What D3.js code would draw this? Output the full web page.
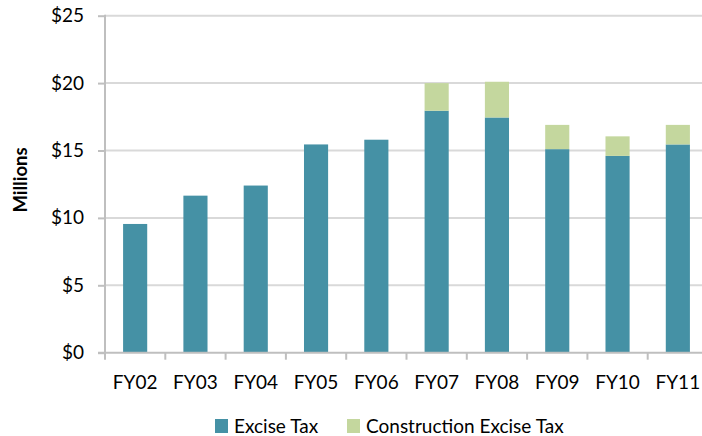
<!DOCTYPE html>
<html>
<head>
<meta charset="utf-8">
<script src="https://cdn.jsdelivr.net/npm/d3@7"></script>
<style>
  html, body { margin: 0; padding: 0; background: #fff; }
  svg { display: block; font-family: Lato, "Open Sans", sans-serif; }
</style>
</head>
<body>
<svg id="chart" width="702" height="436"></svg>
<script>
// Fiscal years and revenue (in $ millions)
const years = ["FY02", "FY03", "FY04", "FY05", "FY06", "FY07", "FY08", "FY09", "FY10", "FY11"];
const exciseTax = [9.55, 11.65, 12.4, 15.45, 15.8, 17.95, 17.45, 15.1, 14.6, 15.45];
const constructionExciseTax = [0, 0, 0, 0, 0, 2.05, 2.65, 1.8, 1.45, 1.45];
const seriesNames = ["Excise Tax", "Construction Excise Tax"];
const seriesColors = ["#4591a5", "#c4d79e"];
const yTicks = [0, 5, 10, 15, 20, 25];

const FONT = "Lato, 'Open Sans', sans-serif";
const FS = 19;
const svg = d3.select("#chart");
const x0 = 105, x1 = 708, yBottom = 352.7, yTop = 15.7;

const x = d3.scaleBand().domain(years).range([x0, x1]).paddingInner(0.6).paddingOuter(0.3);
const xStep = d3.scaleBand().domain(years).range([x0, x1]);
const y = d3.scaleLinear().domain([0, 25]).range([yBottom, yTop]);

// gridlines
svg.append("g").selectAll("line").data(yTicks.filter(d => d > 0)).join("line")
  .attr("x1", x0).attr("x2", 702)
  .attr("y1", d => y(d)).attr("y2", d => y(d))
  .attr("stroke", "#d9d9d9").attr("stroke-width", 2);

// stacked bars
const rows = years.map((yr, i) => ({ year: yr, a: exciseTax[i], b: constructionExciseTax[i] }));
const stack = d3.stack().keys(["a", "b"])(rows);
svg.append("g").selectAll("g").data(stack).join("g")
  .attr("fill", (d, i) => seriesColors[i])
  .selectAll("rect").data(d => d.filter(p => p[1] - p[0] > 0)).join("rect")
  .attr("x", d => x(d.data.year))
  .attr("width", x.bandwidth())
  .attr("y", d => y(d[1]))
  .attr("height", d => y(d[0]) - y(d[1]));

// y axis
const yAxis = svg.append("g").attr("transform", `translate(${x0},0)`)
  .call(d3.axisLeft(y).tickValues(yTicks).tickFormat(d => "$" + d).tickSize(7).tickPadding(14));
yAxis.select(".domain").attr("stroke", "#bfbfbf").attr("stroke-width", 2)
  .attr("d", `M0,${yTop - 1}V${yBottom + 1}`);
yAxis.selectAll(".tick line").attr("stroke", "#bfbfbf").attr("stroke-width", 2);
yAxis.selectAll(".tick text").attr("font-size", FS).attr("fill", "#000")
  .attr("font-family", FONT);

// x axis
const xAxis = svg.append("g").attr("transform", `translate(0,${yBottom})`);
xAxis.append("line").attr("x1", x0 - 7).attr("x2", 702).attr("y1", 0).attr("y2", 0)
  .attr("stroke", "#bfbfbf").attr("stroke-width", 2);
xAxis.selectAll("line.tk").data(years).join("line").attr("class", "tk")
  .attr("x1", d => xStep(d)).attr("x2", d => xStep(d))
  .attr("y1", 0).attr("y2", 7)
  .attr("stroke", "#bfbfbf").attr("stroke-width", 2);
xAxis.selectAll("text").data(years).join("text")
  .attr("x", d => xStep(d) + xStep.bandwidth() / 2)
  .attr("y", 36)
  .attr("text-anchor", "middle")
  .attr("font-size", FS)
  .text(d => d);

// y axis title
svg.append("text")
  .attr("transform", "translate(27,180) rotate(-90)")
  .attr("text-anchor", "middle")
  .attr("font-size", 18.5).attr("font-weight", "bold")
  .text("Millions");

// legend
const legendX = [215, 347];
const lg = svg.append("g").selectAll("g").data(seriesNames).join("g")
  .attr("transform", (d, i) => `translate(${legendX[i]},419)`);
lg.append("rect").attr("width", 13).attr("height", 14).attr("fill", (d, i) => seriesColors[i]);
lg.append("text").attr("x", 19).attr("y", 13.5).attr("font-size", FS).text(d => d);
</script>
</body>
</html>
